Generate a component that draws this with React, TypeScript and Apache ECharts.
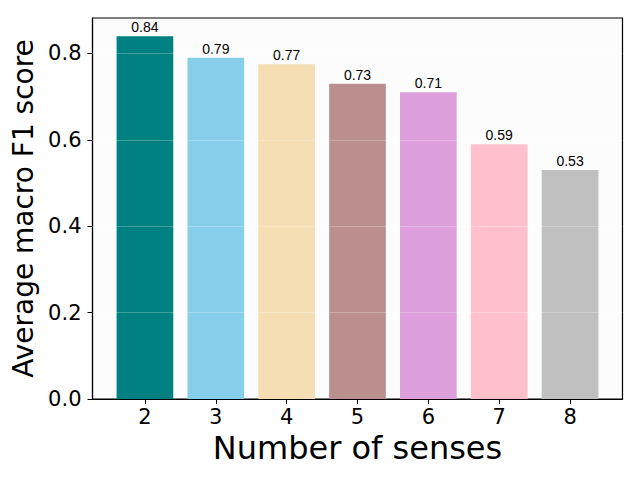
import React, { useEffect, useRef } from "react";
import * as echarts from "echarts";

const senses = [2, 3, 4, 5, 6, 7, 8];
const scores = [0.84, 0.79, 0.775, 0.73, 0.71, 0.59, 0.53];
const scoreLabels = ["0.84", "0.79", "0.77", "0.73", "0.71", "0.59", "0.53"];
const barColors = ["#008080", "#87CEEB", "#F5DEB3", "#BC8F8F", "#DDA0DD", "#FFC0CB", "#C0C0C0"];
const yTicks = [0, 0.2, 0.4, 0.6, 0.8];

export default function App() {
  const ref = useRef<HTMLDivElement>(null);
  useEffect(() => {
    const chart = echarts.init(ref.current!, null, { renderer: "svg" });
    const gridLeft = 92.5, gridRight = 19.5;
    const plotW = 642 - gridLeft - gridRight;
    const xMin = 1.26, xMax = 8.74;
    const barW = (0.8 * plotW) / (xMax - xMin);
    const font = "'DejaVu Sans', sans-serif";
    chart.setOption({
      animation: false,
      backgroundColor: "#ffffff",
      grid: {
        left: gridLeft,
        right: gridRight,
        top: 18,
        bottom: 83,
        outerBoundsMode: "none",
        containLabel: false,
        show: true,
        backgroundColor: "#fcfcfc",
        borderColor: "#000",
        borderWidth: 1.2,
      },
      xAxis: {
        type: "value",
        min: xMin,
        max: xMax,
        name: "Number of senses",
        nameLocation: "middle",
        nameGap: 31,
        nameTextStyle: { fontFamily: font, fontSize: 32, color: "#000" },
        axisLine: { show: true, onZero: false, lineStyle: { color: "#000", width: 1.2 } },
        axisTick: { show: true, length: 5, lineStyle: { color: "#000" }, customValues: senses },
        axisLabel: { fontFamily: font, fontSize: 21, color: "#000", margin: 7, customValues: senses, formatter: (v: number) => String(v) },
        splitLine: { show: false },
      },
      yAxis: {
        type: "value",
        min: 0,
        max: 0.882,
        name: "Average macro F1 score",
        nameLocation: "middle",
        nameGap: 55,
        nameTextStyle: { fontFamily: font, fontSize: 28, color: "#000" },
        axisLine: { show: true, lineStyle: { color: "#000", width: 1.2 } },
        axisTick: { show: true, length: 5, lineStyle: { color: "#000" }, customValues: yTicks },
        axisLabel: { fontFamily: font, fontSize: 21, color: "#000", margin: 11, customValues: yTicks, formatter: (v: number) => v.toFixed(1) },
        splitLine: { show: false },
      },
      series: [
        {
          type: "bar",
          barWidth: barW,
          data: senses.map((s, i) => ({
            value: [s, scores[i]],
            itemStyle: { color: barColors[i] },
            label: { formatter: scoreLabels[i] },
          })),
          label: {
            show: true,
            position: "top",
            distance: 2,
            fontFamily: "'Liberation Sans', Arial, sans-serif",
            fontSize: 14,
            color: "#000",
          },
          markLine: {
            silent: true,
            symbol: "none",
            label: { show: false },
            lineStyle: { color: "rgba(255,255,255,0.25)", type: "solid", width: 1 },
            data: yTicks.slice(1).map((t) => ({ yAxis: t })),
          },
          z: 2,
        },
      ],
    });
    return () => chart.dispose();
  }, []);
  return <div ref={ref} style={{ position: "fixed", left: 0, top: 0, width: 642, height: 482 }} />;
}
